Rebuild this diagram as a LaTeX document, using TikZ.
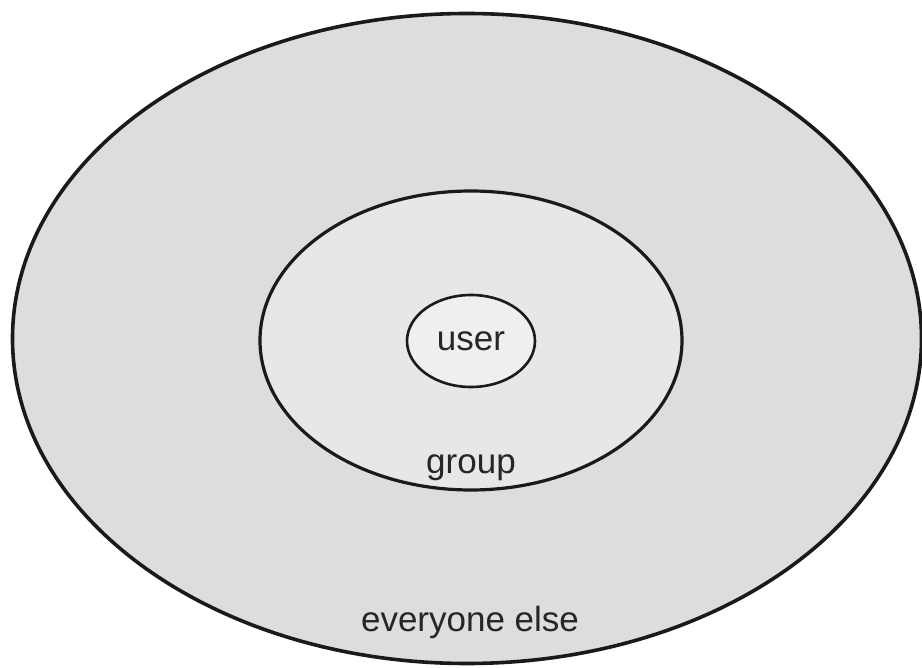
\documentclass[tikz,border=0pt]{standalone}
\usepackage{fontspec}
\setmainfont{Liberation Sans}
\usetikzlibrary{shapes.geometric}
\definecolor{outerfill}{HTML}{DCDDDF}
\definecolor{midfill}{HTML}{E6E7E8}
\definecolor{innerfill}{HTML}{EFEFF0}
\definecolor{ringline}{HTML}{1A1A1A}
\definecolor{labeltext}{HTML}{262626}
\tikzset{
  ring/.style={ellipse, draw=ringline, inner sep=0pt, line width=3.6pt},
  lbl/.style={anchor=base, inner sep=0pt, text=labeltext, font=\fontsize{35}{38}\selectfont}
}
\begin{document}
\begin{tikzpicture}[x=1pt,y=-1pt]
\useasboundingbox (0,0) rectangle (922,668);
\node[ring, fill=outerfill, minimum width=909pt, minimum height=650pt] (outer) at (467,338.5) {};
\node[ring, fill=midfill, line width=3.2pt, minimum width=422pt, minimum height=299pt] (group) at (471,340.5) {};
\node[ring, fill=innerfill, line width=2.6pt, minimum width=128pt, minimum height=92pt] (user) at (471,341) {};
\node[lbl] (userlbl) at (471,351) {user};
\node[lbl] (grouplbl) at (471,473.5) {group};
\node[lbl] (elselbl) at (470,631.5) {everyone else};
\end{tikzpicture}
\end{document}
